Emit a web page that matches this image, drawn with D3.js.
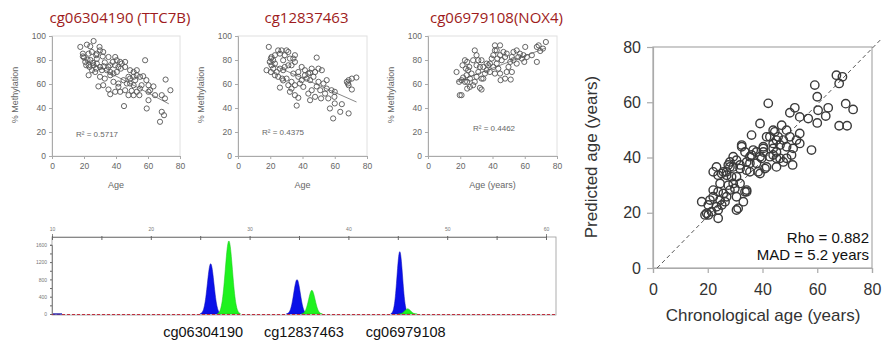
<!DOCTYPE html>
<html lang="en">
<head>
<meta charset="utf-8">
<title>Methylation markers and age prediction</title>
<script src="https://d3js.org/d3.v7.min.js"></script>
<style>
  body { margin: 0; background: #fff; }
  svg { display: block; }
  text { font-family: "Liberation Sans", Arial, sans-serif; }
  .title { font-family: "Open Sans", sans-serif; fill: #9e1b20; }
  .small text { fill: #666; }
</style>
</head>
<body>
<script>
// ---- data ----
var markerNames = ["cg06304190 (TTC7B)", "cg12837463", "cg06979108(NOX4)"];
var markerXTitles = ["Age", "Age", "Age (years)"];
var markerR2 = ["R\u00b2 = 0.5717", "R\u00b2 = 0.4375", "R\u00b2 = 0.4462"];
// trend lines: [age1, meth1, age2, meth2]
var markerTrend = [[18, 82, 73, 43.5], [18, 78, 73.5, 45], [18, 62, 73, 90]];

// age, % methylation
var ttc7b = [
  [17.7,90.9],[21.8,92.8],[26,95.8],[29.7,90.9],[23.9,91.4],[19.3,85.3],[19.3,83],[22.9,85.3],
  [24.9,86.7],[27.6,84],[30,88],[32,86.7],[35.3,82.5],[33,78],[28,81],[24,80],[20.8,78.4],
  [21.4,75.6],[23.5,74.2],[26,75.6],[28,77],[30,74.2],[31.2,71.5],[34.3,71.5],[36.4,70],
  [38.4,68.7],[39.5,75.6],[40.5,79.8],[39.5,82.5],[43.6,77],[45.7,74.2],[48.8,71.5],[51,70],
  [47.8,66],[53,67.3],[55,66],[38.4,61.8],[41.5,60.4],[44.7,63.2],[48.8,60.4],[52,63.2],
  [58.2,79.8],[22.9,67.3],[27,70],[29,58],[32,59],[35.3,55.4],[36.4,51.5],[39.5,53.5],
  [42.6,53.5],[41.5,57.6],[45.7,54.8],[47.8,50.7],[45,41.6],[49.8,54.3],[51,50.7],[53,53.5],
  [55,56.2],[54.6,50.7],[56,59],[59,63.2],[60.3,59],[61.3,54.8],[63.4,58],[60.3,53.5],
  [64.4,50.7],[60.3,46.5],[59.2,39.6],[68.6,50.7],[70.6,48],[71,63.7],[74,54.8],[67.5,28.5],
  [68.6,36.8],[70,34],[48.8,64.6],[51,66],[30,66],[33,64.5],[36.4,67.3],[40.5,70],[43,72.8],
  [20,82],[22.2,80.3],[25.6,77.6],[27.6,72.8],[25,71.5],[32.2,74.8],[35.3,74.2],[38,78.4],
  [42.6,78.4],[45.7,78.4],[53,71.5],[57,66.5],[46.8,60.4],[51,59],[28,85.3],[31.7,83],
  [36.4,75.6],[41.5,74.2],[22.9,75.6]
];
var cg128 = [
  [19.1,90.9],[17.7,71.5],[19.7,78.4],[20.4,81.2],[21.8,79.8],[22.9,77],[20.8,75.6],[24.9,88],
  [26,85.3],[27,88],[29,84],[28,79.8],[30.1,88],[31.2,86.7],[32.2,81.2],[34.3,81.2],[35.3,78.4],
  [33.2,75.6],[29,74.2],[26,72.8],[24,70],[22.9,67.3],[24.9,66],[27.4,64.5],[30.1,64.5],
  [33.2,61.8],[34.3,68.7],[37.4,70],[39.5,74.2],[41.5,71.5],[43.6,68.7],[45.7,72.8],[47.8,70],
  [48.8,82],[49.9,72.8],[52,71.5],[39.5,63.2],[42.6,64.5],[44.7,63.2],[38.4,60.4],[35.3,59],
  [33.2,56.2],[32.2,53.5],[35.3,50.7],[37.4,48.5],[36.4,42],[26,57],[43.6,52],[45.7,54.8],
  [44.7,46.5],[47.8,49.3],[48.8,58],[51,54.8],[51.5,48],[54,52],[53,60.4],[55,63.2],[55,56.2],
  [56,48],[58,54.8],[60,53.5],[59.8,49.3],[57,39.6],[59,31.3],[63.4,36.8],[64.4,43.2],[60,43.8],
  [67.5,61.8],[68.6,63.2],[70.6,64.5],[73.4,65.4],[68.6,59],[70.6,55.4],[68.6,35.5],[68.2,60.4],
  [20.8,82.5],[22.9,84],[21.8,72.8],[20.4,70],[28,71.5],[31.2,75.6],[35.3,84],[37.4,66],
  [41.5,67.3],[46.8,66],[28,63],[31.2,59],[49.9,61.8],[44.7,69.4],[40.5,57.6]
];
var nox4 = [
  [17.7,70],[19.7,50.7],[20.8,50.7],[19.3,61.8],[20.8,63.2],[21.8,65.4],[22.9,61.8],[21.4,75.6],
  [22.9,79.8],[24.3,78.4],[24.9,71.5],[23.9,67.3],[26,64.5],[27,68.7],[24.3,56.2],[26,57.6],
  [28,59],[29,61.8],[30.1,66],[31.2,70],[32.2,74.2],[30.1,75.6],[29,88],[30.1,84],[28,79.8],
  [31.2,79.8],[32.2,56.8],[33.2,55.4],[34.3,64.5],[35.3,68.7],[36.4,71.5],[34.3,74.2],[37.4,75.6],
  [38.4,77],[39.5,81.2],[40.5,84],[41.5,92.2],[42.6,88],[43,81.2],[44.7,84],[45.7,79.8],
  [40.5,74.2],[43.6,72.8],[44.7,68.7],[45,63.2],[47.8,64.5],[48.8,70],[49.9,74.2],[51,78.4],
  [52,82.5],[53,86.7],[55,88],[57,85.3],[58.2,81.2],[51.3,63.7],[55,77],[52,70],[60.3,90.9],
  [59.2,84],[59.7,78.4],[64.4,84],[67.5,90.9],[68.6,92.2],[67.5,78.4],[69.6,87.5],[71.3,89.5],
  [73.1,95],[46.8,86.7],[47.8,82.5],[42.6,77],[36.4,77],[41.5,68.7],[38.4,70],[33.2,79.8],
  [25.6,74.2],[23.5,72.8],[24.3,61.8],[33.2,64.5],[61.3,82.5],[56,82.5],[53,79.8],[48.8,85.3],
  [44.7,92.2],[41.5,88]
];
var markerData = [ttc7b, cg128, nox4];

// chronological age, predicted age
var predicted = [
  [42.1,59.6],[39.1,52.3],[36,48.1],[41.5,47.5],[44.5,49.3],[32.4,44.5],[33.6,42],[29.3,40.3],
  [36,40.9],[37.8,42],[40.3,43.3],[39.7,39.7],[42.7,40.3],[45.1,39.7],[35.4,37.9],[38.4,34.8],
  [40.9,36],[34.2,35.4],[31.8,36],[29.3,36.6],[27.5,37.3],[25.7,34.8],[23.2,36.6],[22,34.8],
  [23.8,33.6],[26.9,33.6],[28.7,33],[30.5,33],[31.8,30.6],[29.3,30.6],[27.5,30],[24.5,30.6],
  [22,28.2],[23.8,27.6],[25.7,27],[28.1,28.2],[29.9,28.8],[33.6,27.6],[30.5,25.8],[26.9,25.8],
  [24.5,24.6],[22,25.8],[20.8,24.6],[17.8,24],[20.2,22.8],[23.2,22.2],[25.1,22.8],[26.3,24],
  [23.8,21],[21.4,20.4],[19.6,19.8],[19,19.2],[23.8,18],[31.1,21.6],[33,24],[34.2,28.2],
  [45.1,42],[43.9,45.1],[45.7,47.5],[30.5,39],[28.1,38.4],[25.1,34.2],
  [67,69.8],[69.2,69.2],[68,66.8],[59.1,66.2],[60,62],[50,56.2],[51.8,58],[53.6,54.7],
  [56.7,54.1],[60.3,57.1],[64,58],[63.1,55],[60,52.5],[70.4,59.5],[73.1,57.4],[68,51.5],
  [70.9,51.5],[57.9,42.7],[51,37.3],[47,51.7],[43.9,49.9],[48.8,49.9],[53.6,48.7],[42.7,47.5],
  [45.1,46.3],[47.6,46.3],[50,47.5],[52.4,46.3],[53.6,45.1],[46.4,44.5],[48.8,43.9],[51.2,43.3],
  [43.9,43.3],[40.3,43.9],[32.4,43.9],[36.6,42.7],[40.3,42],[43.9,40.9],[46.4,39.7],[48.8,39.7],
  [50.6,40.9],[35.4,40.3],[39.1,40.3],[37.8,37.9],[31.8,37.3],[28.1,36.6],[41.5,36.6],
  [47.6,38.4],[45.1,36.6],[35.4,34.8],[39.1,34.2],[26.9,34.8],[30.5,21],[20.2,19.2],[34.2,27.6],
  [34.2,38.4]
];
var predictedLine = [[1.5, 0], [83, 82.5]];
var predictedStats = ["Rho = 0.882", "MAD = 5.2 years"];

// electropherogram peaks: size, height (RFU), width, dye
var peakPos = [26.06, 27.9, 34.8, 36.3, 45.2, 46.0];
var peakHeight = [1170, 1700, 800, 550, 1450, 120];
var peakWidth = [0.33, 0.36, 0.33, 0.33, 0.28, 0.3];
var peakDye = ["blue", "green", "blue", "green", "blue", "green"];
var peakLabels = ["cg06304190", "cg12837463", "cg06979108"];
var peakLabelPos = [25.3, 35.5, 45.8];
var sizeTicks = [10, 20, 30, 40, 50, 60];
var rfuTicks = [0, 400, 800, 1200, 1600];

// ---- drawing ----
var W = 882, H = 345;
var svg = d3.select("body").append("svg").attr("width", W).attr("height", H);

// three small marker scatter plots
var panelX = [[52, 180], [238, 367], [428, 557]];
markerData.forEach(function(pts, i) {
  var x = d3.scaleLinear().domain([0, 80]).range(panelX[i]);
  var y = d3.scaleLinear().domain([0, 100]).range([156, 36]);
  var g = svg.append("g").attr("class", "small");

  g.append("rect").attr("x", x(0)).attr("y", y(100))
    .attr("width", x(80) - x(0)).attr("height", y(0) - y(100))
    .attr("fill", "none").attr("stroke", "#e0e0e0");

  var ya = g.append("g").attr("transform", "translate(" + x(0) + ",0)")
    .call(d3.axisLeft(y).tickValues([0, 20, 40, 60, 80, 100]).tickSize(3).tickPadding(3));
  var xa = g.append("g").attr("transform", "translate(0," + y(0) + ")")
    .call(d3.axisBottom(x).tickValues([0, 20, 40, 60, 80]).tickSize(3).tickPadding(4));
  [ya, xa].forEach(function(a) {
    a.select(".domain").attr("stroke", "#aaa");
    a.selectAll(".tick line").attr("stroke", "#aaa");
    a.selectAll("text").attr("font-size", 8.5).attr("fill", "#666")
      .attr("font-family", "Liberation Sans, Arial, sans-serif");
  });

  g.append("line")
    .attr("x1", x(markerTrend[i][0])).attr("y1", y(markerTrend[i][1]))
    .attr("x2", x(markerTrend[i][2])).attr("y2", y(markerTrend[i][3]))
    .attr("stroke", "#888").attr("stroke-width", 1);

  g.selectAll("circle").data(pts).enter().append("circle")
    .attr("cx", function(d) { return x(d[0]); })
    .attr("cy", function(d) { return y(d[1]); })
    .attr("r", 2.6).attr("fill", "none")
    .attr("stroke", "#555").attr("stroke-width", 0.9);

  svg.append("text").attr("class", "title")
    .attr("x", (panelX[i][0] + panelX[i][1]) / 2 + 4).attr("y", 23)
    .attr("text-anchor", "middle").attr("font-size", 15)
    .text(markerNames[i]);

  g.append("text")
    .attr("transform", "translate(" + (x(0) - 34) + ",95) rotate(-90)")
    .attr("text-anchor", "middle").attr("font-size", 9)
    .text("% Methylation");

  g.append("text").attr("x", (x(0) + x(80)) / 2).attr("y", 188)
    .attr("text-anchor", "middle").attr("font-size", 9)
    .text(markerXTitles[i]);

  var r2x = [76, 262, 473][i], r2y = [137, 135, 131][i];
  g.append("text").attr("x", r2x).attr("y", r2y).attr("font-size", 8).attr("fill", "#333")
    .text(markerR2[i]);
});

// electropherogram
(function() {
  var x = d3.scaleLinear().domain([10, 60]).range([52, 546]);
  var y = d3.scaleLinear().domain([0, 1600]).range([314, 244.8]);
  var g = svg.append("g");

  g.append("rect").attr("x", 52).attr("y", 237).attr("width", 504).attr("height", 78)
    .attr("fill", "#fff").attr("stroke", "#999").attr("stroke-width", 0.8);

  var top = g.append("g").attr("transform", "translate(0,237)")
    .call(d3.axisTop(x).tickValues(d3.range(10, 61, 5)).tickSize(3).tickFormat(function(d) {
      return sizeTicks.indexOf(d) >= 0 ? d : "";
    }));
  top.selectAll(".tick line").attr("y2", 3).attr("y1", -1).attr("stroke", "#666");
  var left = g.append("g").attr("transform", "translate(52,0)")
    .call(d3.axisLeft(y).tickValues(d3.range(0, 1601, 200)).tickSize(2).tickFormat(function(d) {
      return rfuTicks.indexOf(d) >= 0 ? d : "";
    }));
  [top, left].forEach(function(a) {
    a.select(".domain").attr("stroke", "#888");
    a.selectAll(".tick line").attr("stroke", "#666");
    a.selectAll("text").attr("font-size", 5).attr("fill", "#777");
  });

  var area = d3.area().x(function(d) { return x(d.s); })
    .y0(y(0)).y1(function(d) { return y(d.h); }).curve(d3.curveBasis);
  peakPos.forEach(function(p, i) {
    var w = peakWidth[i];
    var shape = d3.range(-3.2, 3.21, 0.2).map(function(t) {
      return { s: p + t * w, h: peakHeight[i] * Math.exp(-t * t / 2) };
    });
    g.append("path").datum(shape).attr("d", area)
      .attr("fill", peakDye[i] === "blue" ? "#0a10e8" : "#1ef21e")
      .attr("stroke", peakDye[i] === "blue" ? "#0a0ab0" : "#18c018").attr("stroke-width", 0.5);
  });

  // baseline trace
  g.append("line").attr("x1", 52).attr("x2", 556).attr("y1", 314.5).attr("y2", 314.5)
    .attr("stroke", "#c03040").attr("stroke-width", 1.2).attr("stroke-dasharray", "3,2");
  g.append("line").attr("x1", 53).attr("x2", 62).attr("y1", 314).attr("y2", 314)
    .attr("stroke", "#3030b0").attr("stroke-width", 1.5);

  g.selectAll(".plabel").data(peakLabels).enter().append("text")
    .attr("x", function(d, i) { return x(peakLabelPos[i]); }).attr("y", 337)
    .attr("text-anchor", "middle").attr("font-size", 14.5)
    .attr("font-family", "Open Sans, sans-serif").attr("fill", "#111")
    .text(function(d) { return d; });
})();

// predicted vs chronological age
(function() {
  var x = d3.scaleLinear().domain([0, 80]).range([653, 872]);
  var y = d3.scaleLinear().domain([0, 80]).range([268, 47]);
  var g = svg.append("g");

  g.append("rect").attr("x", x(0)).attr("y", y(80))
    .attr("width", x(80) - x(0)).attr("height", y(0) - y(80))
    .attr("fill", "none").attr("stroke", "#aaa").attr("stroke-width", 1.2);

  var ya = g.append("g").attr("transform", "translate(" + x(0) + ",0)")
    .call(d3.axisLeft(y).tickValues([0, 20, 40, 60, 80]).tickSize(6).tickPadding(6));
  var xa = g.append("g").attr("transform", "translate(0," + y(0) + ")")
    .call(d3.axisBottom(x).tickValues([0, 20, 40, 60, 80]).tickSize(5).tickPadding(11));
  [ya, xa].forEach(function(a) {
    a.select(".domain").attr("stroke", "#aaa").attr("stroke-width", 1.2);
    a.selectAll(".tick line").attr("stroke", "#aaa").attr("stroke-width", 1.2);
    a.selectAll("text").attr("font-size", 16).attr("fill", "#333")
      .attr("font-family", "Liberation Sans, Arial, sans-serif");
  });

  g.append("line")
    .attr("x1", x(predictedLine[0][0])).attr("y1", y(predictedLine[0][1]))
    .attr("x2", x(predictedLine[1][0])).attr("y2", y(predictedLine[1][1]))
    .attr("stroke", "#444").attr("stroke-width", 0.9).attr("stroke-dasharray", "4,3");

  g.selectAll("circle").data(predicted).enter().append("circle")
    .attr("cx", function(d) { return x(d[0]); })
    .attr("cy", function(d) { return y(d[1]); })
    .attr("r", 4.2).attr("fill", "none")
    .attr("stroke", "#3a3a3a").attr("stroke-width", 1.4);

  g.append("text").attr("x", 763).attr("y", 321).attr("text-anchor", "middle")
    .attr("font-size", 17).attr("fill", "#333").text("Chronological age (years)");
  g.append("text").attr("transform", "translate(597,157) rotate(-90)")
    .attr("text-anchor", "middle").attr("font-size", 17).attr("fill", "#333")
    .text("Predicted age (years)");

  g.selectAll(".stat").data(predictedStats).enter().append("text")
    .attr("x", 869).attr("y", function(d, i) { return 243 + i * 17; })
    .attr("text-anchor", "end").attr("font-size", 15)
    .attr("font-family", "Open Sans, sans-serif").attr("fill", "#111")
    .text(function(d) { return d; });
})();
</script>
</body>
</html>
